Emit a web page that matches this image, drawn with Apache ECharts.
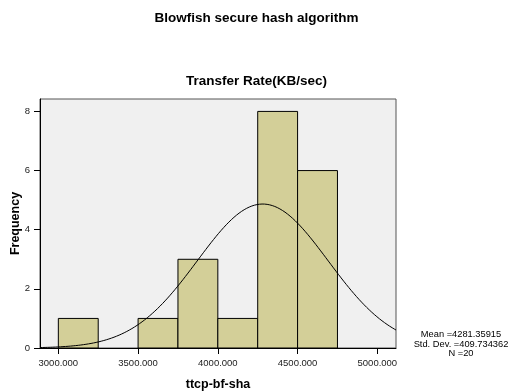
<!DOCTYPE html>
<html><head><meta charset="utf-8">
<script src="https://cdn.jsdelivr.net/npm/echarts@6/dist/echarts.min.js"></script>
<style>html,body{margin:0;padding:0;background:#fff}#c{width:513px;height:392px}</style>
</head><body><div id="c"></div>
<script>
const binStarts = [3000, 3250, 3500, 3750, 4000, 4250, 4500];
const binWidth = 250;
const counts = [1, 0, 1, 3, 1, 8, 6];
const xTicks = [3000, 3500, 4000, 4500, 5000];
const yTicks = [0, 2, 4, 6, 8];
const mean = 4281.35915;
const sd = 409.734362;
const n = 20;

const xMin = 2885, xMax = 5117;
const curve = [];
for (let x = xMin; x <= xMax; x += 8) {
  const z = (x - mean) / sd;
  curve.push([x, n * binWidth * Math.exp(-0.5 * z * z) / (sd * Math.sqrt(2 * Math.PI))]);
}
const bars = binStarts.map((s, i) => [s, s + binWidth, counts[i]]).filter(d => d[2] > 0);

const font = 'Liberation Sans, Arial, sans-serif';
const chart = echarts.init(document.getElementById('c'), null, {renderer: 'canvas'});
chart.setOption({
  animation: false,
  backgroundColor: '#fff',
  title: [
    {text: 'Blowfish secure hash algorithm', left: 'center', top: 6,
     textStyle: {fontFamily: font, fontSize: 13.5, fontWeight: 'bold', color: '#000'}},
    {text: 'Transfer Rate(KB/sec)', left: 'center', top: 69,
     textStyle: {fontFamily: font, fontSize: 13.5, fontWeight: 'bold', color: '#000'}}
  ],
  grid: {left: 40, top: 99, width: 356, height: 249, show: true, backgroundColor: '#f0f0f0',
         borderColor: '#555', borderWidth: 1, containLabel: false, outerBoundsMode: 'none'},
  xAxis: {
    type: 'value', min: xMin, max: xMax,
    name: 'ttcp-bf-sha', nameLocation: 'middle', nameGap: 30, nameMoveOverlap: false,
    nameTextStyle: {fontFamily: font, fontSize: 12.5, fontWeight: 'bold', color: '#000'},
    axisLine: {show: true, lineStyle: {color: '#000', width: 1}},
    axisTick: {show: true, length: 6, customValues: xTicks, lineStyle: {color: '#000'}},
    axisLabel: {customValues: xTicks, formatter: v => v.toFixed(3), fontFamily: font, fontSize: 9.5, color: '#222', margin: 10},
    splitLine: {show: false}
  },
  yAxis: {
    type: 'value', min: 0, max: 8.42,
    name: 'Frequency', nameLocation: 'middle', nameGap: 18, nameRotate: 90, nameMoveOverlap: false,
    nameTextStyle: {fontFamily: font, fontSize: 12.5, fontWeight: 'bold', color: '#000'},
    axisLine: {show: true, lineStyle: {color: '#000', width: 1}},
    axisTick: {show: true, length: 6, customValues: yTicks, lineStyle: {color: '#000'}},
    axisLabel: {customValues: yTicks, fontFamily: font, fontSize: 9.5, color: '#222', margin: 10},
    splitLine: {show: false}
  },
  graphic: [{
    type: 'text', x: 461, y: 330,
    style: {text: 'Mean =4281.35915\nStd. Dev. =409.734362\nN =20',
            align: 'center', verticalAlign: 'top', font: '9.3px ' + font, fill: '#000', lineHeight: 9.5}
  }],
  series: [
    {type: 'custom', data: bars, clip: true,
     renderItem: (params, api) => {
       const p0 = api.coord([api.value(0), api.value(2)]);
       const p1 = api.coord([api.value(1), 0]);
       return {type: 'rect', shape: {x: p0[0], y: p0[1], width: p1[0] - p0[0], height: p1[1] - p0[1]},
               style: {fill: '#d3cf98', stroke: '#000', lineWidth: 1}};
     }, z: 2},
    {type: 'line', data: curve, showSymbol: false, smooth: false, clip: true,
     lineStyle: {color: '#000', width: 1}, z: 3}
  ]
});
</script></body></html>
